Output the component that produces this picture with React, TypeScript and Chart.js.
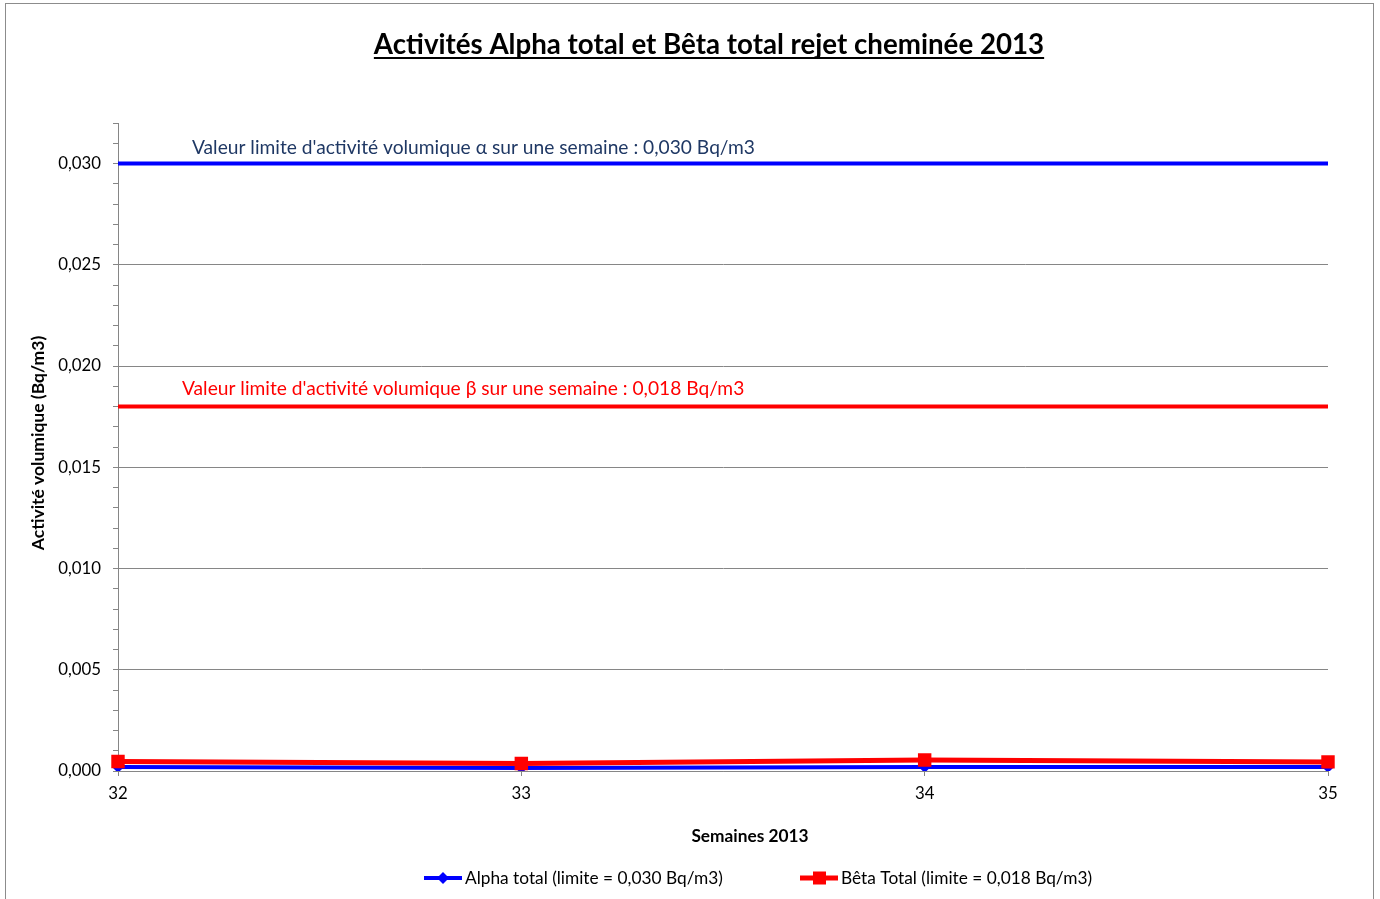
import React, { useEffect, useRef } from 'react';
import Chart from 'chart.js/auto';

const weeks = ['32', '33', '34', '35'];
const alphaValues = [0.0002, 0.00015, 0.0002, 0.0002];
const betaValues = [0.00047, 0.00037, 0.00054, 0.00045];
const alphaLimit = 0.03;
const betaLimit = 0.018;
const yMin = 0;
const yMax = 0.032;
const yMinorStep = 0.001;

const titleText = 'Activités Alpha total et Bêta total rejet cheminée 2013';
const yAxisTitle = 'Activité volumique (Bq/m3)';
const xAxisTitle = 'Semaines 2013';
const alphaLabel = 'Alpha total (limite = 0,030 Bq/m3)';
const betaLabel = 'Bêta Total (limite = 0,018 Bq/m3)';
const alphaLimitText = "Valeur limite d'activité volumique α sur une semaine : 0,030 Bq/m3";
const betaLimitText = "Valeur limite d'activité volumique β sur une semaine : 0,018 Bq/m3";

const FONT = 'Lato, "Open Sans", sans-serif';
const BLUE = '#0000FF';
const RED = '#FF0000';
const GRID = '#868686';

const isMajor = (v: number) => Math.round(v * 1000) % 5 === 0;

const decorPlugin = {
  id: 'decor',
  afterDraw(chart: any) {
    const ctx = chart.ctx as CanvasRenderingContext2D;
    const area = chart.chartArea;
    const ys = chart.scales.y;
    ctx.save();
    // frame
    ctx.strokeStyle = '#8c8c8c';
    ctx.lineWidth = 1;
    ctx.strokeRect(5.5, 3.5, 1368, 910);

    // title
    ctx.fillStyle = '#000';
    ctx.font = `bold 27.7px ${FONT}`;
    ctx.textAlign = 'center';
    ctx.textBaseline = 'middle';
    const tx = 709;
    const ty = 45;
    ctx.fillText(titleText, tx, ty);
    const tw = ctx.measureText(titleText).width;
    ctx.fillRect(tx - tw / 2, ty + 12, tw, 2);

    // y axis title
    ctx.save();
    ctx.translate(38, 443);
    ctx.rotate(-Math.PI / 2);
    ctx.font = `bold 17.5px ${FONT}`;
    ctx.fillText(yAxisTitle, 0, 0);
    ctx.restore();

    // x axis title
    ctx.font = `bold 17.3px ${FONT}`;
    ctx.fillText(xAxisTitle, 750, 836);

    // limit labels
    ctx.textAlign = 'left';
    ctx.font = `19.2px ${FONT}`;
    ctx.fillStyle = '#1F3864';
    ctx.fillText(alphaLimitText, area.left + 74, ys.getPixelForValue(alphaLimit) - 16);
    ctx.fillStyle = RED;
    ctx.fillText(betaLimitText, area.left + 64, ys.getPixelForValue(betaLimit) - 18);

    // legend
    const ly = 878;
    ctx.font = `17.3px ${FONT}`;
    // alpha
    ctx.strokeStyle = BLUE;
    ctx.lineWidth = 4;
    ctx.beginPath();
    ctx.moveTo(424, ly);
    ctx.lineTo(462, ly);
    ctx.stroke();
    ctx.fillStyle = BLUE;
    ctx.beginPath();
    ctx.moveTo(443, ly - 6);
    ctx.lineTo(449, ly);
    ctx.lineTo(443, ly + 6);
    ctx.lineTo(437, ly);
    ctx.closePath();
    ctx.fill();
    ctx.fillStyle = '#000';
    ctx.fillText(alphaLabel, 465, ly);
    // beta
    ctx.strokeStyle = RED;
    ctx.lineWidth = 5;
    ctx.beginPath();
    ctx.moveTo(800, ly);
    ctx.lineTo(838, ly);
    ctx.stroke();
    ctx.fillStyle = RED;
    ctx.fillRect(813, ly - 6.5, 13, 13);
    ctx.fillStyle = '#000';
    ctx.fillText(betaLabel, 841, ly);
    ctx.restore();
  },
};

export default function App() {
  const ref = useRef<HTMLCanvasElement | null>(null);
  useEffect(() => {
    if (!ref.current) return;
    const chart = new Chart(ref.current, {
      type: 'line',
      data: {
        labels: weeks,
        datasets: [
          {
            label: alphaLabel,
            data: alphaValues,
            borderColor: BLUE,
            backgroundColor: BLUE,
            borderWidth: 4,
            pointStyle: 'rectRot',
            pointRadius: 6,
            pointBorderWidth: 0,
            order: 1,
          },
          {
            label: betaLabel,
            data: betaValues,
            borderColor: RED,
            backgroundColor: RED,
            borderWidth: 5,
            pointStyle: 'rect',
            pointRadius: 9.5,
            pointBorderWidth: 0,
            order: 0,
          },
          {
            label: 'limite alpha',
            data: weeks.map(() => alphaLimit),
            borderColor: BLUE,
            borderWidth: 4,
            pointRadius: 0,
            order: 2,
          },
          {
            label: 'limite beta',
            data: weeks.map(() => betaLimit),
            borderColor: RED,
            borderWidth: 4,
            pointRadius: 0,
            order: 3,
          },
        ],
      },
      options: {
        responsive: false,
        animation: false,
        layout: { padding: { top: 123, right: 52, left: 0, bottom: 0 } },
        plugins: {
          legend: { display: false },
          title: { display: false },
          tooltip: { enabled: false },
        },
        scales: {
          x: {
            type: 'category',
            offset: false,
            border: { display: true, color: GRID, width: 1 },
            grid: { drawOnChartArea: false, drawTicks: true, tickLength: 5, color: GRID },
            ticks: { color: '#000', font: { family: FONT, size: 16.8 }, padding: 8, maxRotation: 0 },
            afterFit: (s: any) => {
              s.height = 128;
            },
          },
          y: {
            min: yMin,
            max: yMax,
            border: { display: true, color: GRID, width: 1 },
            grid: {
              color: (c: any) => (c.tick && isMajor(c.tick.value) ? GRID : 'rgba(0,0,0,0)'),
              tickColor: GRID,
              tickLength: 5,
              lineWidth: 1,
            },
            ticks: {
              stepSize: yMinorStep,
              autoSkip: false,
              color: '#000',
              font: { family: FONT, size: 16.8 },
              padding: 12,
              callback: (v: any) => (isMajor(Number(v)) ? Number(v).toFixed(3).replace('.', ',') : ''),
            },
            afterFit: (s: any) => {
              s.width = 118;
            },
          },
        },
      },
      plugins: [decorPlugin],
    } as any);
    return () => chart.destroy();
  }, []);
  return (
    <div style={{ position: 'absolute', left: 0, top: 0, width: 1380, height: 899, background: '#fff' }}>
      <canvas ref={ref} width={1380} height={899} style={{ width: 1380, height: 899, display: 'block' }} />
    </div>
  );
}
